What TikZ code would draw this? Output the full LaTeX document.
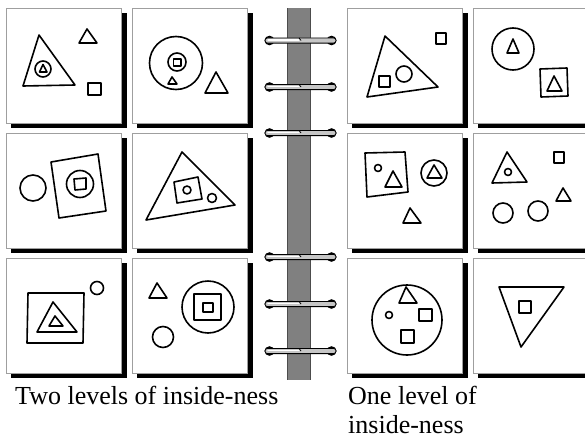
\documentclass[tikz,border=0pt]{standalone}
\usepackage{fontspec}
\setmainfont{Liberation Serif}
\definecolor{spinegray}{RGB}{128,128,128}
\begin{document}
\begin{tikzpicture}[x=1pt,y=-1pt,
  panelbox/.style={fill=white,draw=gray!75,line width=0.7pt},
  panelshadow/.style={fill=black},
  shp/.style={draw=black,line width=1.6pt,line join=round},
  ringbar/.style={fill=gray!45,draw=black,line width=0.8pt,rounded corners=2.5pt},
  ringknob/.style={fill=black},
  caption/.style={anchor=base west,inner sep=0pt,font=\fontsize{26}{29}\selectfont}]
\useasboundingbox (0,0) rectangle (585,439);
\clip (0,0) rectangle (585,439);
\fill[white] (0,0) rectangle (585,439);
% panels
\foreach \px in {6,132,347,473}{
  \foreach \py in {8,133,258}{
    \fill[panelshadow] (\px+5,\py+5) rectangle (\px+121,\py+120);
    \draw[panelbox] (\px,\py) rectangle (\px+115,\py+115);
  }
}
% spine
\fill[spinegray] (287,8) rectangle (311,380);
\draw[black!70,line width=0.6pt] (287.3,8) -- (287.3,380);
\draw[black!70,line width=0.6pt] (310.7,8) -- (310.7,380);
% rings
\foreach \ry in {40.5,87,133,257,304,351}{
  \fill[ringknob] (269.5,\ry) ellipse (5pt and 4.8pt);
  \fill[ringknob] (331.5,\ry) ellipse (5pt and 4.8pt);
  \draw[ringbar] (265,\ry-2.6) rectangle (336,\ry+2.6);
  \draw[white,line width=1.2pt,line cap=round] (268,\ry-0.5) -- (299,\ry-0.5);
  \draw[black,line width=0.8pt] (299,\ry-2.6) -- (301,\ry);
}
% panel 1
\draw[shp] (39,35) -- (23,86) -- (75,85) -- cycle;
\draw[shp] (43,69) circle[radius=8pt];
\draw[shp] (43,64.5) -- (39.5,72) -- (47,72) -- cycle;
\draw[shp] (87,29) -- (79,43) -- (97,43) -- cycle;
\draw[shp] (88,83) rectangle (101,95);
% panel 2
\draw[shp] (176,63) circle[radius=26.5pt];
\draw[shp] (177,62) circle[radius=9pt];
\draw[shp] (173.5,59) rectangle (181,66);
\draw[shp] (172,77) -- (168,84) -- (177,84) -- cycle;
\draw[shp] (216,72) -- (205,93) -- (228,93) -- cycle;
% panel 3
\draw[shp] (33,188) circle[radius=13pt];
\draw[shp] (51,162) -- (98,154) -- (106,211) -- (59,218) -- cycle;
\draw[shp] (80,184) circle[radius=13.5pt];
\draw[shp] (74,179) -- (86,178) -- (86,189) -- (75,190) -- cycle;
% panel 4
\draw[shp] (182,152) -- (146,220) -- (235,205) -- cycle;
\draw[shp] (174,182) -- (198,177) -- (202,199) -- (177,203) -- cycle;
\draw[shp] (187,190) circle[radius=4pt];
\draw[shp] (212,198) circle[radius=4.5pt];
% panel 5
\draw[shp] (28,293) -- (84,293) -- (83,343) -- (27,343) -- cycle;
\draw[shp] (53,302) -- (37,332) -- (77,332) -- cycle;
\draw[shp] (55,316) -- (49,326) -- (63,326) -- cycle;
\draw[shp] (97,288) circle[radius=6.5pt];
% panel 6
\draw[shp] (157,283) -- (149,298) -- (167,298) -- cycle;
\draw[shp] (163,337) circle[radius=10.5pt];
\draw[shp] (208,307) circle[radius=26pt];
\draw[shp] (194,294) rectangle (221,320);
\draw[shp] (203,303) rectangle (213,312);
% panel 7
\draw[shp] (385,36) -- (367,97) -- (438,87) -- cycle;
\draw[shp] (379,76) rectangle (390,87);
\draw[shp] (404,74) circle[radius=8pt];
\draw[shp] (436,33) rectangle (446,44);
% panel 8
\draw[shp] (513,49) circle[radius=21pt];
\draw[shp] (513,39) -- (507,53) -- (519,53) -- cycle;
\draw[shp] (540,69) -- (567,68) -- (568,96) -- (541,97) -- cycle;
\draw[shp] (554,76) -- (547,91) -- (562,91) -- cycle;
% panel 9
\draw[shp] (365,153) -- (405,152) -- (408,192) -- (367,197) -- cycle;
\draw[shp] (378,168) circle[radius=3.5pt];
\draw[shp] (393,171) -- (385,187) -- (402,187) -- cycle;
\draw[shp] (434,173) circle[radius=13pt];
\draw[shp] (434,165) -- (427,178) -- (442,178) -- cycle;
\draw[shp] (410,208) -- (403,223) -- (421,223) -- cycle;
% panel 10
\draw[shp] (507,152) -- (492,183) -- (527,182) -- cycle;
\draw[shp] (508,172) circle[radius=3.5pt];
\draw[shp] (554,152) rectangle (564,163);
\draw[shp] (563,188) -- (556,201) -- (571,201) -- cycle;
\draw[shp] (503,213) circle[radius=10pt];
\draw[shp] (538,211) circle[radius=10pt];
% panel 11
\draw[shp] (407,320) circle[radius=35pt];
\draw[shp] (406,287) -- (399,303) -- (417,303) -- cycle;
\draw[shp] (389,315) circle[radius=3.5pt];
\draw[shp] (419,309) rectangle (432,321);
\draw[shp] (401,330) rectangle (414,343);
% panel 12
\draw[shp] (499,287) -- (564,287) -- (521,347) -- cycle;
\draw[shp] (519,301) rectangle (531,313);
% captions
\node[caption] (capA) at (15,404) {Two levels of inside-ness};
\node[caption] (capB) at (348,404) {One level of};
\node[caption] (capC) at (348,433) {inside-ness};
\end{tikzpicture}
\end{document}
